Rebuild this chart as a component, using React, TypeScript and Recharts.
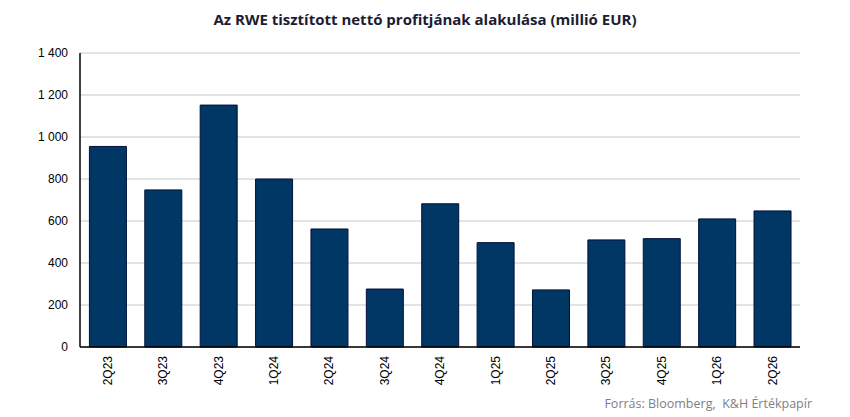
import React from "react";
import { BarChart, Bar, XAxis, YAxis, CartesianGrid } from "recharts";

const categories = ["2Q23", "3Q23", "4Q23", "1Q24", "2Q24", "3Q24", "4Q24", "1Q25", "2Q25", "3Q25", "4Q25", "1Q26", "2Q26"];
const profit = [955, 748, 1152, 800, 562, 276, 682, 497, 272, 510, 516, 610, 648];
const yTicks = [0, 200, 400, 600, 800, 1000, 1200, 1400];

const data = categories.map((c, i) => ({ name: c, value: profit[i] }));

const fmt = (v: number) => {
  const s = String(v);
  return s.length > 3 ? s.slice(0, s.length - 3) + " " + s.slice(-3) : s;
};

const XTick = (props: any) => {
  const { x, payload } = props;
  return (
    <g transform={`translate(${x},356)`}>
      <text
        transform="rotate(-90)"
        textAnchor="end"
        dy="0.35em"
        fill="#000"
        fontSize={12}
        fontFamily="'Liberation Sans', Arial, sans-serif"
      >
        {payload.value}
      </text>
    </g>
  );
};

export default function App() {
  return (
    <div style={{ position: "absolute", left: 0, top: 0, width: 850, height: 417, background: "#fff" }}>
      <div
        style={{
          position: "absolute",
          left: 0,
          top: 9,
          width: 850,
          textAlign: "center",
          fontFamily: "'Open Sans', sans-serif",
          fontWeight: 700,
          fontSize: 15,
          color: "#1c1c34",
        }}
      >
        Az RWE tisztított nettó profitjának alakulása (millió EUR)
      </div>
      <BarChart
        width={850}
        height={417}
        data={data}
        margin={{ top: 53, right: 50, bottom: 0, left: 0 }}
        barCategoryGap="17%"
      >
        <CartesianGrid horizontal vertical={false} stroke="#c8c8c8" strokeWidth={1} />
        <XAxis
          dataKey="name"
          interval={0}
          height={70}
          tickLine={false}
          axisLine={{ stroke: "#000", strokeWidth: 1.5 }}
          tick={<XTick />}
        />
        <YAxis
          width={80}
          domain={[0, 1400]}
          ticks={yTicks}
          tickFormatter={fmt}
          tickLine={false}
          tickMargin={6}
          axisLine={{ stroke: "#000", strokeWidth: 1.5 }}
          tick={{ fill: "#000", fontSize: 12, fontFamily: "'Liberation Sans', Arial, sans-serif" }}
        />
        <Bar dataKey="value" fill="#003764" stroke="#00103a" strokeWidth={1} isAnimationActive={false} />
      </BarChart>
      <div
        style={{
          position: "absolute",
          right: 38,
          top: 395,
          fontFamily: "'Open Sans', sans-serif",
          fontSize: 12.5,
          color: "#7f7f7f",
          whiteSpace: "pre",
        }}
      >
        {"Forrás: Bloomberg,  K&H Értékpapír"}
      </div>
    </div>
  );
}
